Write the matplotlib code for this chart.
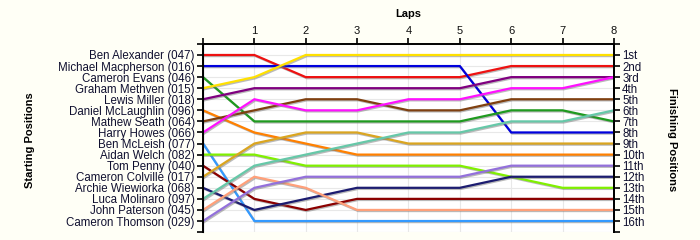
import matplotlib
matplotlib.use("Agg")
import matplotlib.pyplot as plt
import matplotlib.patheffects as pe

drivers = ["Ben Alexander (047)", "Michael Macpherson (016)", "Cameron Evans (046)",
           "Graham Methven (015)", "Lewis Miller (018)", "Daniel McLaughlin (096)",
           "Mathew Seath (064)", "Harry Howes (066)", "Ben McLeish (077)",
           "Aidan Welch (082)", "Tom Penny (040)", "Cameron Colville (017)",
           "Archie Wiewiorka (068)", "Luca Molinaro (097)", "John Paterson (045)",
           "Cameron Thomson (029)"]

laps = [0, 1, 2, 3, 4, 5, 6, 7, 8]

# position of each driver at each lap (lap 0 = start)
positions = [
    [1, 1, 3, 3, 3, 3, 2, 2, 2],
    [2, 2, 2, 2, 2, 2, 8, 8, 8],
    [3, 7, 7, 7, 7, 7, 6, 6, 7],
    [4, 3, 1, 1, 1, 1, 1, 1, 1],
    [5, 4, 4, 4, 4, 4, 3, 3, 3],
    [6, 8, 9, 10, 10, 10, 10, 10, 10],
    [7, 6, 5, 5, 6, 6, 5, 5, 5],
    [8, 5, 6, 6, 5, 5, 4, 4, 3],
    [9, 16, 16, 16, 16, 16, 16, 16, 16],
    [10, 10, 11, 11, 11, 11, 12, 13, 13],
    [11, 14, 15, 14, 14, 14, 14, 14, 14],
    [12, 9, 8, 8, 9, 9, 9, 9, 9],
    [13, 15, 14, 13, 13, 13, 12, 12, 12],
    [14, 11, 10, 9, 8, 8, 7, 7, 6],
    [15, 12, 13, 15, 15, 15, 15, 15, 15],
    [16, 13, 12, 12, 12, 12, 11, 11, 11],
]

colors = ["#ee1111", "#0000dd", "#1f9a1f", "#ffe000", "#800080", "#ff8000",
          "#7f4010", "#ff10ff", "#3399ff", "#80f000", "#8b0000", "#daa520",
          "#1c1c70", "#66c8a8", "#ffa07a", "#9370db"]

finish_labels = ["1st", "2nd", "3rd", "4th", "5th", "6th", "7th", "8th", "9th",
                 "10th", "11th", "12th", "13th", "14th", "15th", "16th"]

plt.rcParams['font.family'] = ['Liberation Sans', 'DejaVu Sans']

fig = plt.figure(figsize=(7, 2.4), dpi=100, facecolor="#fffff6")
ax = fig.add_axes([0.29, 0.033, 0.587, 0.784])
ax.set_facecolor("white")

for pos, c in zip(positions, colors):
    ax.plot(laps, pos, color=c, lw=1.6, solid_joinstyle='miter',
            path_effects=[pe.SimpleLineShadow(offset=(0.8, -0.8), shadow_color='#777777', alpha=0.5),
                          pe.Normal()], zorder=3)

n = len(drivers)
ax.set_ylim(n + 1, 0)
ax.set_xlim(0, 8)

yt = list(range(0, n + 2))
ax.set_yticks(yt)
ax.set_yticklabels([""] + drivers + [""], fontsize=8.3, color="#101030")
ax.set_xticks(laps)
ax.set_xticklabels([""] + [str(l) for l in laps[1:]], fontsize=8, color="#101010")
ax.xaxis.tick_top()

ax.grid(True, color="#e8e8e8", lw=0.8, zorder=0)
ax.set_axisbelow(True)
ax.tick_params(axis='both', direction='out', length=4, width=1.2, pad=2)
ax.spines['bottom'].set_visible(False)
for s in ['left', 'right', 'top']:
    ax.spines[s].set_linewidth(1.4)

ax2 = ax.twinx()
ax2.set_ylim(n + 1, 0)
ax2.set_yticks(yt)
ax2.set_yticklabels([""] + finish_labels + [""], fontsize=8.3, color="#101030")
ax2.tick_params(axis='y', direction='out', length=4, width=1.2, pad=2)
ax2.spines['bottom'].set_visible(False)
ax2.spines['right'].set_linewidth(1.4)
ax2.spines['top'].set_visible(False)

fig.text(408 / 700, 1 - 14 / 240, "Laps", fontsize=8, fontweight='bold', ha='center', va='center')
fig.text(30 / 700, 1 - 140 / 240, "Starting Positions", fontsize=8, fontweight='bold',
         rotation=90, ha='center', va='center')
fig.text(672 / 700, 1 - 140 / 240, "Finishing Positions", fontsize=8, fontweight='bold',
         rotation=270, ha='center', va='center')

fig.savefig("out.png", dpi=100, facecolor=fig.get_facecolor())
